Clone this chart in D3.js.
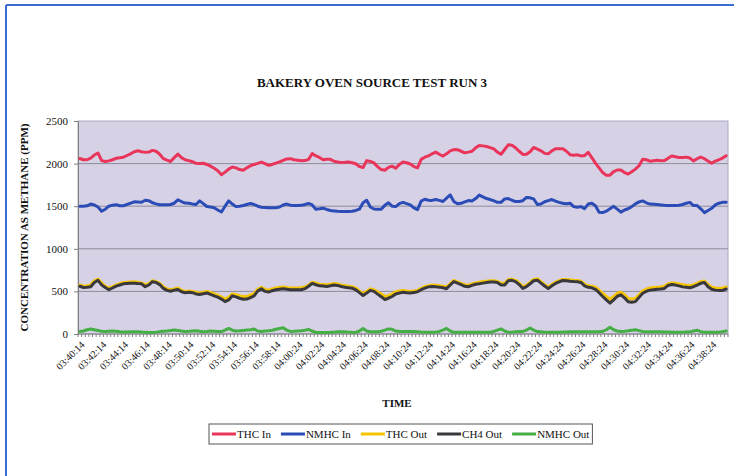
<!DOCTYPE html>
<html>
<head>
<meta charset="utf-8">
<script src="https://cdn.jsdelivr.net/npm/d3@7/dist/d3.min.js"></script>
<style>
  html, body { margin: 0; padding: 0; background: #fff; }
  svg { display: block; }
  text { font-family: "Liberation Serif", "Times New Roman", serif; fill: #111; }
</style>
</head>
<body>
<div id="chart"></div>
<script>
// time labels, one every 6th sample
var tickLabels = ['03:40:14', '03:42:14', '03:44:14', '03:46:14', '03:48:14',
  '03:50:14', '03:52:14', '03:54:14', '03:56:14', '03:58:14',
  '04:00:24', '04:02:24', '04:04:24', '04:06:24', '04:08:24',
  '04:10:24', '04:12:24', '04:14:24', '04:16:24', '04:18:24',
  '04:20:24', '04:22:24', '04:24:24', '04:26:24', '04:28:24',
  '04:30:24', '04:32:24', '04:34:24', '04:36:24', '04:38:24'];
var labelEvery = 6;

var yTicks = [0, 500, 1000, 1500, 2000, 2500];

var thcIn = [2060,2045,2045,2065,2100,2125,2035,2025,2032,2045,
  2062,2068,2075,2095,2115,2140,2150,2140,2132,2135,
  2155,2145,2110,2058,2040,2025,2070,2112,2070,2045,
  2035,2022,2003,2002,2004,1990,1970,1945,1915,1870,
  1900,1935,1960,1950,1930,1922,1950,1975,1990,2003,
  2018,2000,1980,1990,2005,2020,2038,2055,2058,2045,
  2040,2033,2035,2050,2118,2090,2072,2045,2052,2050,
  2028,2018,2012,2015,2019,2010,1998,1965,1955,2035,
  2025,2008,1965,1930,1922,1955,1970,1945,1990,2018,
  2010,1995,1965,1950,2050,2075,2090,2115,2135,2110,
  2088,2115,2150,2165,2163,2145,2126,2135,2145,2185,
  2212,2208,2201,2188,2172,2135,2110,2165,2220,2215,
  2185,2145,2108,2110,2140,2190,2170,2150,2120,2115,
  2150,2174,2174,2174,2145,2105,2098,2103,2090,2095,
  2133,2070,2005,1950,1895,1862,1864,1905,1925,1925,
  1895,1878,1905,1935,1975,2050,2045,2028,2034,2039,
  2034,2035,2062,2089,2080,2071,2072,2076,2065,2032,
  2058,2076,2058,2030,2005,2030,2045,2065,2092];

var nmhcIn = [1500,1500,1505,1525,1515,1490,1440,1465,1500,1512,
  1518,1505,1505,1522,1535,1552,1550,1547,1570,1565,
  1540,1527,1517,1516,1516,1520,1535,1575,1555,1537,
  1535,1527,1520,1562,1530,1496,1490,1482,1455,1432,
  1500,1562,1525,1495,1500,1508,1520,1532,1520,1500,
  1487,1485,1482,1481,1483,1490,1515,1525,1512,1508,
  1508,1510,1520,1532,1515,1465,1470,1476,1462,1450,
  1445,1440,1438,1438,1438,1440,1450,1465,1540,1570,
  1490,1467,1463,1465,1510,1540,1500,1495,1530,1545,
  1530,1515,1480,1460,1560,1582,1570,1568,1578,1568,
  1555,1595,1632,1555,1528,1534,1550,1566,1560,1590,
  1630,1610,1590,1578,1564,1545,1545,1585,1590,1570,
  1554,1556,1565,1603,1598,1585,1520,1525,1552,1565,
  1578,1560,1545,1535,1528,1535,1495,1488,1495,1472,
  1525,1535,1505,1430,1425,1442,1470,1498,1465,1430,
  1455,1470,1495,1527,1550,1562,1540,1525,1522,1519,
  1515,1510,1508,1508,1508,1512,1520,1535,1545,1508,
  1508,1470,1425,1450,1475,1515,1535,1545,1547];

var thcOut = [575,560,565,575,625,645,600,560,540,555,
  575,590,605,608,610,612,608,600,575,590,
  625,615,595,555,530,520,530,540,512,500,
  505,500,490,482,490,500,488,470,455,435,
  410,430,470,462,450,440,440,458,475,525,
  548,525,515,528,540,548,552,545,540,540,
  540,542,552,575,608,598,585,580,578,585,
  592,588,575,568,562,555,538,505,475,500,
  530,520,495,468,440,450,468,495,505,512,
  505,500,505,512,535,555,568,575,572,568,
  560,552,592,628,612,595,578,572,588,600,
  608,615,620,625,625,620,595,595,640,645,
  630,598,555,572,605,640,648,615,580,552,
  582,608,625,640,640,635,630,628,620,585,
  565,560,548,515,475,440,408,440,478,492,
  460,418,410,418,460,505,525,540,545,550,
  552,560,590,600,595,588,578,572,568,580,
  595,615,622,580,550,540,538,540,552];

var ch4Out = [560,546,548,555,605,630,577,545,520,540,
  562,575,589,592,595,596,592,589,555,575,
  614,605,580,535,512,502,515,522,495,484,
  490,485,470,463,472,481,465,448,432,410,
  380,400,448,435,420,408,410,428,448,505,
  530,500,492,508,520,526,531,525,519,519,
  519,520,532,560,594,578,565,562,558,566,
  575,570,557,548,543,538,518,485,452,480,
  512,500,468,438,405,420,440,470,482,490,
  485,480,486,495,520,538,553,558,554,550,
  542,532,575,615,598,580,560,555,570,584,
  590,597,604,610,610,605,575,575,625,630,
  614,580,535,555,590,625,632,598,563,533,
  565,593,612,628,626,620,616,613,605,565,
  548,542,525,485,440,400,362,400,443,460,
  425,378,372,380,430,478,500,515,520,525,
  528,535,570,581,574,565,553,548,543,555,
  573,595,605,555,525,515,512,512,528];

var nmhcOut = [30,35,50,58,50,42,32,30,33,35,
  32,27,23,24,26,27,26,23,21,19,
  19,22,28,32,35,40,46,42,35,30,
  32,36,38,32,27,30,34,33,30,28,
  45,65,45,35,38,42,46,50,58,35,
  30,34,38,45,55,65,73,45,30,32,
  35,38,45,54,35,19,19,19,19,20,
  22,25,27,25,22,20,19,35,65,35,
  27,27,27,33,45,60,55,35,30,30,
  30,30,30,27,24,22,20,20,22,30,
  45,65,35,20,20,20,20,20,20,20,
  20,20,20,20,30,45,60,35,20,22,
  25,28,30,45,70,45,28,25,22,20,
  20,20,22,23,24,25,25,25,25,25,
  25,26,27,28,30,50,80,50,35,30,
  32,38,45,50,40,30,25,25,25,25,
  25,24,23,22,20,21,22,24,25,35,
  45,28,20,20,20,20,22,28,35];

var series = [
  { name: 'THC In', values: thcIn, color: '#e93559' },
  { name: 'NMHC In', values: nmhcIn, color: '#2b4cb6' },
  { name: 'THC Out', values: thcOut, color: '#f6c500' },
  { name: 'CH4 Out', values: ch4Out, color: '#38383d' },
  { name: 'NMHC Out', values: nmhcOut, color: '#45ae45' }
];

var width = 734, height = 476;
var plot = { left: 78, right: 728, top: 121, bottom: 334 };

var svg = d3.select('#chart').append('svg')
  .attr('width', width)
  .attr('height', height);

// scanned page frame (blue edge top and left)
svg.append('line')
  .attr('x1', 6).attr('x2', width).attr('y1', 5).attr('y2', 5)
  .attr('stroke', '#3a6ed2').attr('stroke-width', 2);
svg.append('line')
  .attr('x1', 6).attr('x2', 6).attr('y1', 5).attr('y2', height)
  .attr('stroke', '#3a6ed2').attr('stroke-width', 2);

var n = thcIn.length;

var x = d3.scaleBand()
  .domain(d3.range(n))
  .range([plot.left, plot.right]);

var y = d3.scaleLinear()
  .domain([0, 2500])
  .range([plot.bottom, plot.top]);

function xc(i) { return x(i) + x.bandwidth() / 2; }

// plot area
svg.append('rect')
  .attr('x', plot.left).attr('y', plot.top)
  .attr('width', plot.right - plot.left)
  .attr('height', plot.bottom - plot.top)
  .attr('fill', '#d7d1e6')
  .attr('stroke', '#a9a7c0')
  .attr('stroke-width', 1);

// gridlines
svg.append('g')
  .selectAll('line')
  .data(yTicks.filter(function(d) { return d > 0 && d < 2500; }))
  .enter().append('line')
    .attr('x1', plot.left).attr('x2', plot.right)
    .attr('y1', function(d) { return y(d); })
    .attr('y2', function(d) { return y(d); })
    .attr('stroke', '#8e8d9b')
    .attr('stroke-width', 1);

// y axis
var yAxis = svg.append('g')
  .attr('transform', 'translate(' + plot.left + ',0)')
  .call(d3.axisLeft(y).tickValues(yTicks).tickFormat(d3.format('d'))
    .tickSize(4).tickPadding(6));
yAxis.select('.domain').attr('stroke', '#808080');
yAxis.selectAll('.tick line').attr('stroke', '#808080');
yAxis.selectAll('text')
  .style('font-family', '"Liberation Serif", serif')
  .style('font-size', '11px')
  .attr('fill', '#222');

// x axis: tick at every category boundary
var xAxisG = svg.append('g');
xAxisG.append('line')
  .attr('x1', plot.left).attr('x2', plot.right)
  .attr('y1', plot.bottom).attr('y2', plot.bottom)
  .attr('stroke', '#808080');
xAxisG.selectAll('line.tk')
  .data(d3.range(n + 1))
  .enter().append('line')
    .attr('class', 'tk')
    .attr('x1', function(i) { return plot.left + i * x.step(); })
    .attr('x2', function(i) { return plot.left + i * x.step(); })
    .attr('y1', plot.bottom).attr('y2', plot.bottom + 3)
    .attr('stroke', '#808080');

xAxisG.selectAll('text')
  .data(tickLabels)
  .enter().append('text')
    .attr('transform', function(d, k) {
      return 'translate(' + (xc(k * labelEvery) + 3) + ',' + (plot.bottom + 9) + ') rotate(-45)';
    })
    .attr('text-anchor', 'end')
    .attr('dy', '0.35em')
    .style('font-size', '10px')
    .text(function(d) { return d; });

// lines
var line = d3.line()
  .x(function(d, i) { return xc(i); })
  .y(function(d) { return y(d); });

svg.append('g')
  .selectAll('path')
  .data(series)
  .enter().append('path')
    .attr('d', function(s) { return line(s.values); })
    .attr('fill', 'none')
    .attr('stroke', function(s) { return s.color; })
    .attr('stroke-width', 3)
    .attr('stroke-linejoin', 'round')
    .attr('stroke-linecap', 'round');

// titles
svg.append('text')
  .attr('x', 372).attr('y', 87)
  .attr('text-anchor', 'middle')
  .style('font-size', '13px')
  .style('font-weight', 'bold')
  .text('BAKERY OVEN SOURCE TEST RUN 3');

svg.append('text')
  .attr('transform', 'translate(28,' + ((plot.top + plot.bottom) / 2) + ') rotate(-90)')
  .attr('text-anchor', 'middle')
  .style('font-size', '11px')
  .style('font-weight', 'bold')
  .text('CONCENTRATION AS METHANE (PPM)');

svg.append('text')
  .attr('x', 397).attr('y', 407)
  .attr('text-anchor', 'middle')
  .style('font-size', '11px')
  .style('font-weight', 'bold')
  .text('TIME');

// legend
var legend = svg.append('g').attr('transform', 'translate(212,434)');
var lx = 0;
series.forEach(function(s) {
  legend.append('line')
    .attr('x1', lx).attr('x2', lx + 24)
    .attr('y1', 0).attr('y2', 0)
    .attr('stroke', s.color)
    .attr('stroke-width', 3);
  var t = legend.append('text')
    .attr('x', lx + 25).attr('y', 0)
    .attr('dy', '0.35em')
    .style('font-size', '11px')
    .text(s.name);
  lx += 25 + t.node().getComputedTextLength() + 10;
});
legend.insert('rect', ':first-child')
  .attr('x', -3).attr('y', -10)
  .attr('width', lx - 4).attr('height', 20)
  .attr('fill', '#fff')
  .attr('stroke', '#555')
  .attr('stroke-width', 1);
</script>
</body>
</html>
